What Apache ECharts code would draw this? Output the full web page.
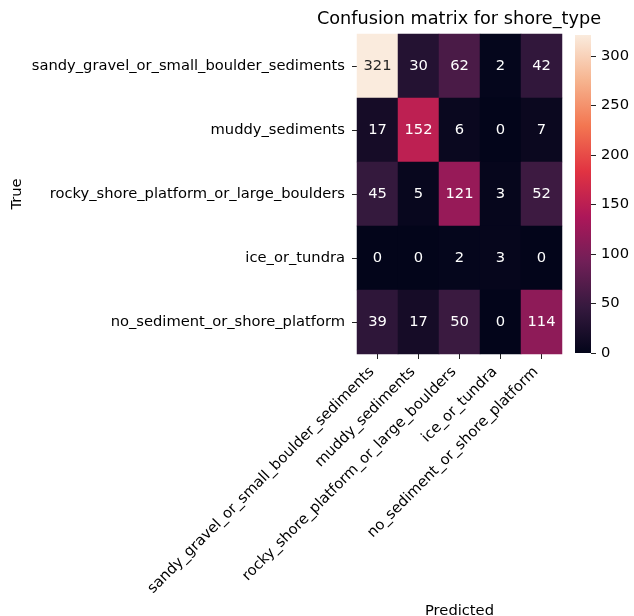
<!DOCTYPE html>
<html>
<head>
<meta charset="utf-8">
<title>Confusion matrix for shore_type</title>
<script src="https://cdn.jsdelivr.net/npm/echarts@6/dist/echarts.min.js"></script>
<style>
  html, body { margin: 0; padding: 0; background: #ffffff; }
  #chart { width: 634px; height: 616px; }
</style>
</head>
<body>
<div id="chart"></div>
<script>
// Class names, shared by the true (rows) and predicted (columns) axes
const classes = [
  'sandy_gravel_or_small_boulder_sediments',
  'muddy_sediments',
  'rocky_shore_platform_or_large_boulders',
  'ice_or_tundra',
  'no_sediment_or_shore_platform'
];

// Counts: one row per true class, one column per predicted class
const rowSandy = [321, 30, 62, 2, 42];
const rowMuddy = [17, 152, 6, 0, 7];
const rowRocky = [45, 5, 121, 3, 52];
const rowIce = [0, 0, 2, 3, 0];
const rowNoSed = [39, 17, 50, 0, 114];
const matrix = [rowSandy, rowMuddy, rowRocky, rowIce, rowNoSed];

// Colour bar range and tick labels
const colorMin = 0;
const colorMax = 321;
const colorbarTicks = [0, 50, 100, 150, 200, 250, 300];

// "rocket" colour map, sampled at even steps from 0 to 1
const rocket = ['#03051a', '#35193e', '#701f57', '#ad1759', '#e13342', '#f37651', '#f6b48f', '#faebdd'];

const FONT = 'DejaVu Sans';
const FS = 14.7;
const TEXT = '#000000';

const cells = [];
matrix.forEach(function (row, r) {
  row.forEach(function (v, c) {
    const light = (v - colorMin) / (colorMax - colorMin) > 0.75;
    cells.push({ value: [c, r, v], label: { color: light ? '#262626' : '#ffffff' } });
  });
});

const chart = echarts.init(document.getElementById('chart'), null, { renderer: 'canvas' });

const gradientStops = rocket.map(function (col, i) {
  return { offset: i / (rocket.length - 1), color: col };
});

chart.setOption({
  animation: false,
  backgroundColor: '#ffffff',
  textStyle: { fontFamily: FONT },
  title: {
    text: 'Confusion matrix for shore_type',
    left: 459,
    textAlign: 'center',
    top: 10,
    padding: 0,
    textStyle: { fontFamily: FONT, fontSize: 17.7, fontWeight: 'normal', color: TEXT }
  },
  grid: [
    { left: 357, top: 34, width: 205, height: 320, outerBoundsMode: 'none', containLabel: false },
    { left: 575, top: 35, width: 16, height: 318, outerBoundsMode: 'none', containLabel: false }
  ],
  xAxis: [
    {
      type: 'category',
      gridIndex: 0,
      data: classes,
      position: 'bottom',
      name: 'Predicted',
      nameLocation: 'middle',
      nameGap: 249,
      nameTextStyle: { fontFamily: FONT, fontSize: FS, color: TEXT },
      axisLine: { show: false },
      axisTick: { show: true, alignWithLabel: true, length: 5, lineStyle: { color: '#222' } },
      axisLabel: {
        rotate: 45,
        interval: 0,
        margin: 10,
        padding: [0, 8, 0, 0],
        fontFamily: FONT,
        fontSize: FS,
        color: TEXT
      },
      splitLine: { show: false }
    },
    {
      type: 'category',
      gridIndex: 1,
      data: [''],
      show: false
    }
  ],
  yAxis: [
    {
      type: 'category',
      gridIndex: 0,
      data: classes,
      inverse: true,
      name: 'True',
      nameLocation: 'middle',
      nameGap: 332,
      nameTextStyle: { fontFamily: FONT, fontSize: FS, color: TEXT },
      axisLine: { show: false },
      axisTick: { show: true, alignWithLabel: true, length: 5, lineStyle: { color: '#222' } },
      axisLabel: { interval: 0, margin: 12, fontFamily: FONT, fontSize: FS, color: TEXT },
      splitLine: { show: false }
    },
    {
      type: 'value',
      gridIndex: 1,
      min: colorMin,
      max: colorMax,
      position: 'right',
      axisLine: { show: false },
      axisTick: { show: true, length: 5, customValues: colorbarTicks, lineStyle: { color: '#222' } },
      axisLabel: { customValues: colorbarTicks, margin: 10, fontFamily: FONT, fontSize: FS, color: TEXT },
      splitLine: { show: false }
    }
  ],
  visualMap: {
    show: false,
    type: 'continuous',
    seriesIndex: 0,
    dimension: 2,
    min: colorMin,
    max: colorMax,
    inRange: { color: rocket }
  },
  series: [
    {
      type: 'heatmap',
      xAxisIndex: 0,
      yAxisIndex: 0,
      data: cells,
      label: { show: true, fontFamily: FONT, fontSize: FS },
      itemStyle: { borderWidth: 0 },
      emphasis: { disabled: true }
    },
    {
      // colour bar: one full-height bar filled with the colour map
      type: 'bar',
      xAxisIndex: 1,
      yAxisIndex: 1,
      data: [colorMax],
      barWidth: '100%',
      silent: true,
      itemStyle: {
        color: new echarts.graphic.LinearGradient(0, 1, 0, 0, gradientStops)
      }
    }
  ]
});
</script>
</body>
</html>
